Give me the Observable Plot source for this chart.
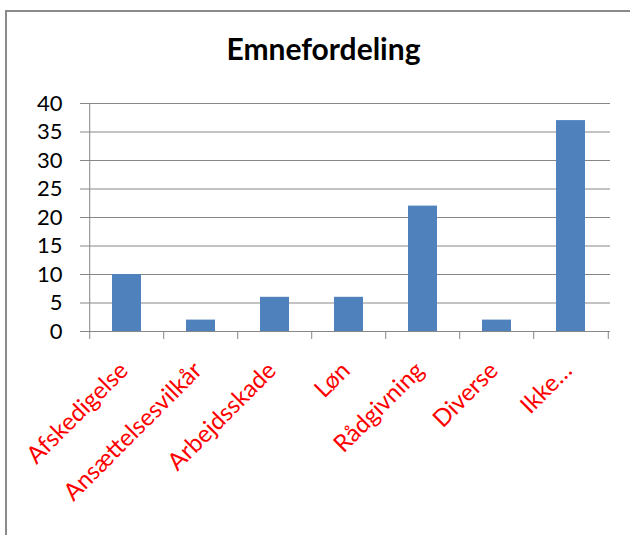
<!DOCTYPE html>
<html><head><meta charset="utf-8">
<script src="https://cdn.jsdelivr.net/npm/d3@7"></script>
<script src="https://cdn.jsdelivr.net/npm/@observablehq/plot@0.6"></script>
<style>
body{margin:0;background:#fff;}
#wrap{position:relative;width:630px;height:535px;overflow:hidden;font-family:Lato,sans-serif;background:#fff;}
#frame{position:absolute;left:5px;top:10px;width:700px;height:600px;border-left:2px solid #8a8a8a;border-top:2px solid #8a8a8a;}
#title{position:absolute;left:0;width:647px;top:33px;line-height:30px;text-align:center;font-weight:bold;font-size:30px;color:#000;}
#chart{position:absolute;left:0;top:85px;}
</style></head><body>
<div id="wrap"><div id="frame"></div><div id="title">Emnefordeling</div><div id="chart"></div></div>
<script>
const categories = ["Afskedigelse", "Ansættelsesvilkår", "Arbejdsskade", "Løn", "Rådgivning", "Diverse", "Ikke…"];
const values = [10, 2, 6, 6, 22, 2, 37];
const yTicks = [0, 5, 10, 15, 20, 25, 30, 35, 40];

const data = categories.map((c, i) => ({category: c, value: values[i]}));
const W = 630, H = 450, mL = 88, mR = 20, mT = 18, mB = 204;
const step = (W - mL - mR) / categories.length;
const gray = "#878787";

const chart = Plot.plot({
  width: W, height: H,
  marginLeft: mL, marginRight: mR, marginTop: mT, marginBottom: mB,
  style: {fontFamily: "Lato, sans-serif", background: "transparent", overflow: "visible"},
  x: {domain: categories, paddingInner: 0.605, paddingOuter: 0.3025, axis: null},
  y: {domain: [0, 40], axis: null},
  marks: [
    Plot.gridY(yTicks, {stroke: gray, strokeOpacity: 1, strokeWidth: 1}),
    Plot.axisY(yTicks, {tickSize: 8, tickPadding: 18, label: null, stroke: gray, strokeOpacity: 1, fill: "#000", fontSize: 22, tickFormat: d => String(d)}),
    Plot.barY(data, {x: "category", y: "value", fill: "#4F81BD"}),
    Plot.ruleX([categories[0]], {x: d => d, y1: 0, y2: 40, dx: -step / 2, stroke: gray}),
    Plot.ruleY([0], {stroke: gray}),
    Plot.ruleX(categories, {x: d => d, y1: 0, y2: 0, insetBottom: -8, dx: -step / 2, stroke: gray}),
    Plot.ruleX([categories[categories.length - 1]], {x: d => d, y1: 0, y2: 0, insetBottom: -8, dx: step / 2, stroke: gray}),
    Plot.text(data, {x: "category", frameAnchor: "bottom", text: "category", rotate: -45, textAnchor: "end", lineAnchor: "middle", fill: "red", fontSize: 24, dx: -3, dy: 35})
  ]
});
document.getElementById("chart").appendChild(chart);
</script>
</body></html>
